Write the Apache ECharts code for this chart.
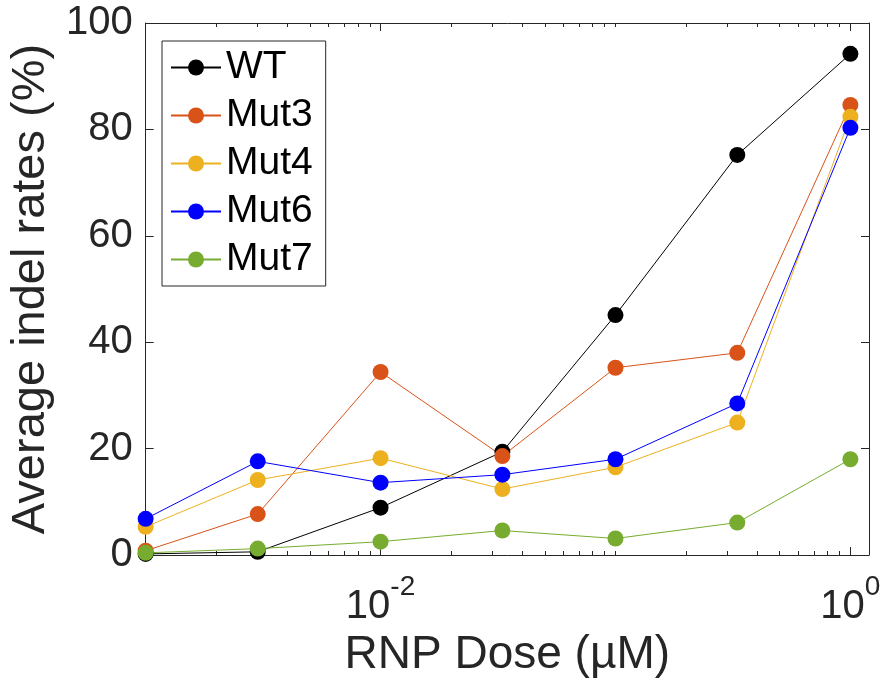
<!DOCTYPE html>
<html>
<head>
<meta charset="utf-8">
<script src="https://cdn.jsdelivr.net/npm/echarts@6/dist/echarts.min.js"></script>
<style>
  html, body { margin: 0; padding: 0; background: #ffffff; }
  #chart { width: 885px; height: 691px; }
</style>
</head>
<body>
<div id="chart"></div>
<script>
// RNP doses (µM) on a log scale
const doses = [0.001, 0.003, 0.01, 0.033, 0.1, 0.33, 1];

// Average indel rates (%) per guide variant
const seriesNames = ['WT', 'Mut3', 'Mut4', 'Mut6', 'Mut7'];
const wt   = [0.2, 0.6, 8.9, 19.4, 45.1, 75.2, 94.2];
const mut3 = [0.8, 7.7, 34.4, 18.6, 35.2, 38.0, 84.6];
const mut4 = [5.3, 14.1, 18.2, 12.4, 16.5, 24.9, 82.4];
const mut6 = [6.8, 17.6, 13.6, 15.1, 18.0, 28.5, 80.3];
const mut7 = [0.4, 1.2, 2.5, 4.6, 3.1, 6.1, 18.0];
const seriesValues = [wt, mut3, mut4, mut6, mut7];
const colors = ['#000000', '#D95319', '#EDB120', '#0000FF', '#77AC30'];

// Axis ticks
const yTicks = [0, 20, 40, 60, 80, 100];
const xLabelTicks = [0.01, 1];
const xMajorTicks = [0.001, 0.01, 1];
const xMinorTicks = [];
for (let e = -3; e <= -1; e++) {
  for (let m = 1; m <= 9; m++) {
    const v = +(m * Math.pow(10, e)).toPrecision(6);
    if (xMajorTicks.indexOf(v) < 0) xMinorTicks.push(v);
  }
}

const FONT = '"Liberation Sans", Arial, Helvetica, sans-serif';
const AXIS_COLOR = '#262626';
const X_MIN = 0.001, X_MAX = 1.2;

// Decade labels drawn as 10 with a raised exponent
function supLabel(v) {
  const exp = Math.round(Math.log10(v));
  return '{b|10}{s|' + exp + '}';
}

function xAxisBase(position, extra) {
  return Object.assign({
    type: 'log',
    logBase: 10,
    min: X_MIN,
    max: X_MAX,
    position: position,
    axisLine: { show: true, lineStyle: { color: AXIS_COLOR, width: 1 } },
    splitLine: { show: false },
    axisLabel: { show: false },
    minorTick: { show: false }
  }, extra);
}

const chart = echarts.init(document.getElementById('chart'), null, { renderer: 'canvas' });

chart.setOption({
  animation: false,
  backgroundColor: '#ffffff',
  grid: { left: 145, right: 16, top: 23, bottom: 136, containLabel: false },
  legend: {
    data: seriesNames,
    orient: 'vertical',
    left: 162,
    top: 41,
    itemWidth: 50,
    itemHeight: 20,
    itemGap: 9,
    padding: [7, 13, 7, 8],
    backgroundColor: '#ffffff',
    borderColor: AXIS_COLOR,
    borderWidth: 1,
    borderRadius: 0,
    selectedMode: false,
    textStyle: { fontSize: 39, color: '#000000', fontFamily: FONT, lineHeight: 38 }
  },
  xAxis: [
    xAxisBase('bottom', {
      name: 'RNP Dose (µM)',
      nameLocation: 'middle',
      nameGap: 74,
      nameTextStyle: { fontSize: 46, color: AXIS_COLOR, fontFamily: FONT },
      axisTick: { show: true, inside: true, length: 8, customValues: xMajorTicks, lineStyle: { color: AXIS_COLOR } },
      axisLabel: {
        show: true,
        customValues: xLabelTicks,
        margin: 18,
        formatter: supLabel,
        rich: {
          b: { fontSize: 40, color: AXIS_COLOR, fontFamily: FONT, padding: [14, 0, 0, 0], verticalAlign: 'bottom' },
          s: { fontSize: 28, color: AXIS_COLOR, fontFamily: FONT, verticalAlign: 'top' }
        }
      }
    }),
    xAxisBase('bottom', {
      axisLine: { show: false },
      axisTick: { show: true, inside: true, length: 4, customValues: xMinorTicks, lineStyle: { color: AXIS_COLOR } }
    }),
    xAxisBase('top', {
      axisTick: { show: true, inside: true, length: 8, customValues: xMajorTicks, lineStyle: { color: AXIS_COLOR } }
    }),
    xAxisBase('top', {
      axisLine: { show: false },
      axisTick: { show: true, inside: true, length: 4, customValues: xMinorTicks, lineStyle: { color: AXIS_COLOR } }
    })
  ],
  yAxis: [
    {
      type: 'value',
      position: 'left',
      min: 0,
      max: 100,
      interval: 20,
      name: 'Average indel rates (%)',
      nameLocation: 'middle',
      nameGap: 88,
      nameTextStyle: { fontSize: 47, color: AXIS_COLOR, fontFamily: FONT },
      axisLine: { show: true, lineStyle: { color: AXIS_COLOR, width: 1 } },
      axisTick: { show: true, inside: true, length: 8, customValues: yTicks, lineStyle: { color: AXIS_COLOR } },
      axisLabel: { show: true, customValues: yTicks, margin: 13, fontSize: 40, color: AXIS_COLOR, fontFamily: FONT },
      splitLine: { show: false }
    },
    {
      type: 'value',
      position: 'right',
      min: 0,
      max: 100,
      interval: 20,
      axisLine: { show: true, lineStyle: { color: AXIS_COLOR, width: 1 } },
      axisTick: { show: true, inside: true, length: 8, customValues: yTicks, lineStyle: { color: AXIS_COLOR } },
      axisLabel: { show: false },
      splitLine: { show: false }
    }
  ],
  series: seriesNames.map((name, k) => ({
    name: name,
    type: 'line',
    xAxisIndex: 0,
    yAxisIndex: 0,
    data: doses.map((d, i) => [d, seriesValues[k][i]]),
    symbol: 'circle',
    symbolSize: 16,
    showSymbol: true,
    clip: false,
    color: colors[k],
    itemStyle: { color: colors[k], borderWidth: 0 },
    lineStyle: { color: colors[k], width: 1 },
    emphasis: { disabled: true }
  }))
});
</script>
</body>
</html>
